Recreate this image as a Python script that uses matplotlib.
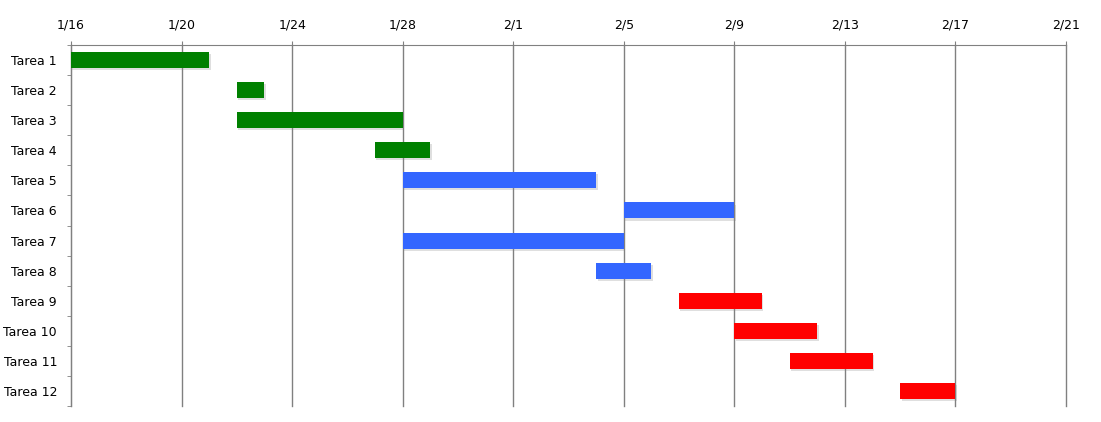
import matplotlib
matplotlib.use("Agg")
import matplotlib.pyplot as plt
import matplotlib.dates as mdates
from matplotlib.ticker import FixedLocator
import matplotlib.patheffects as pe
import numpy as np
import datetime as dt

# Data
tasks = ["Tarea 1", "Tarea 2", "Tarea 3", "Tarea 4", "Tarea 5", "Tarea 6",
         "Tarea 7", "Tarea 8", "Tarea 9", "Tarea 10", "Tarea 11", "Tarea 12"]
starts = ["2014-01-16", "2014-01-22", "2014-01-22", "2014-01-27", "2014-01-28", "2014-02-05",
          "2014-01-28", "2014-02-04", "2014-02-07", "2014-02-09", "2014-02-11", "2014-02-15"]
ends = ["2014-01-21", "2014-01-23", "2014-01-28", "2014-01-29", "2014-02-04", "2014-02-09",
        "2014-02-05", "2014-02-06", "2014-02-10", "2014-02-12", "2014-02-14", "2014-02-17"]
colors = ["#008000"] * 4 + ["#3366FF"] * 4 + ["#FF0000"] * 4

start_d = [mdates.date2num(dt.date.fromisoformat(s)) for s in starts]
end_d = [mdates.date2num(dt.date.fromisoformat(e)) for e in ends]
widths = [e - s for s, e in zip(start_d, end_d)]
y = np.arange(len(tasks))

fig = plt.figure(figsize=(11.01, 4.22), dpi=100)
ax = fig.add_axes([71 / 1101, 16 / 422, (1066 - 71) / 1101, (406 - 45) / 422])

bars = ax.barh(y, widths, left=start_d, height=0.53, color=colors, zorder=3)
for b in bars:
    b.set_path_effects([pe.SimplePatchShadow(offset=(1, -1.5), alpha=0.25, shadow_rgbFace="gray"), pe.Normal()])

ax.set_ylim(len(tasks) - 0.5, -0.5)
ax.set_yticks(y)
ax.set_yticklabels(tasks)
ax.yaxis.set_minor_locator(FixedLocator(np.arange(-0.5, len(tasks), 1)))
ax.tick_params(axis="y", which="major", length=0, pad=10, labelsize=9)
ax.tick_params(axis="y", which="minor", length=3, color="#808080")

x0 = mdates.date2num(dt.date(2014, 1, 16))
x1 = mdates.date2num(dt.date(2014, 2, 21))
ax.set_xlim(x0, x1)
ax.xaxis.set_major_locator(FixedLocator(np.arange(x0, x1 + 1, 4)))
ax.xaxis.set_major_formatter(mdates.DateFormatter("%-m/%-d"))
ax.xaxis.tick_top()
ax.tick_params(axis="x", which="major", length=3, color="#808080", labelsize=9, pad=7)

ax.grid(axis="x", color="#808080", linewidth=1, zorder=0)
for gl in ax.get_xgridlines():
    gl.set_clip_on(False)
for side in ["right", "bottom"]:
    ax.spines[side].set_visible(False)
for side in ["top", "left"]:
    ax.spines[side].set_color("#808080")

fig.savefig("out.png", dpi=100)
